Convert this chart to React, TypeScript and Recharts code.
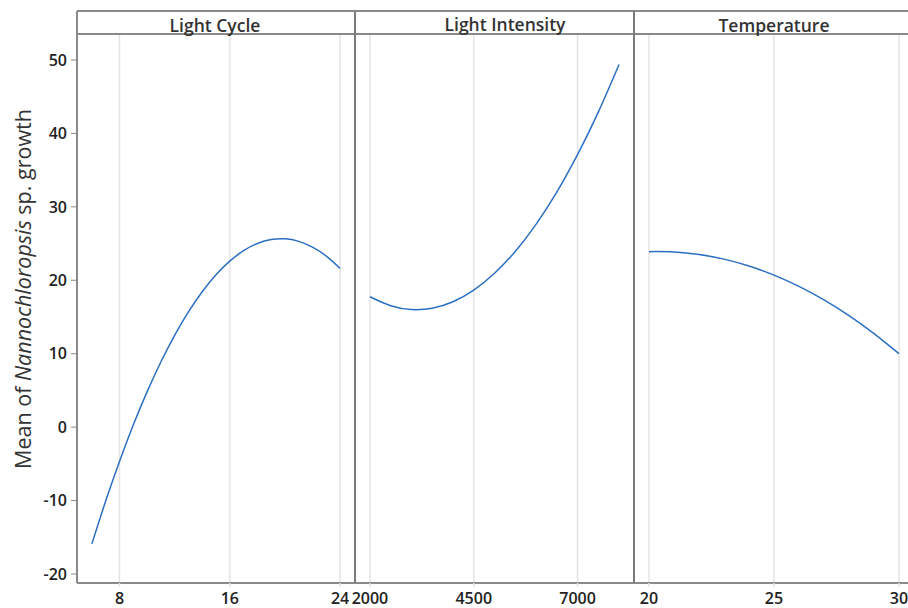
import React from 'react';
import { LineChart, Line, XAxis, YAxis, CartesianGrid } from 'recharts';

// factor levels and fitted means
const panelTitles = ['Light Cycle', 'Light Intensity', 'Temperature'];

const lightCycle = [6, 7, 8, 9, 10, 11, 12, 13, 14, 15, 16, 17, 18, 19, 20, 21, 22, 23, 24];
const lightCycleMean = [-15.9, -10.06, -4.67, 0.29, 4.8, 8.87, 12.5, 15.69, 18.44, 20.74, 22.6, 24.03, 25.01, 25.54, 25.64, 25.3, 24.51, 23.28, 21.61];

const lightIntensity = [2000, 2500, 3000, 3500, 4000, 4500, 5000, 5500, 6000, 6500, 7000, 7500, 8000];
const lightIntensityMean = [17.75, 16.53, 16.01, 16.19, 17.07, 18.66, 20.95, 23.93, 27.62, 32.01, 37.11, 42.9, 49.39];

const temperature = [20, 21, 22, 23, 24, 25, 26, 27, 28, 29, 30];
const temperatureMean = [23.9, 23.86, 23.52, 22.88, 21.94, 20.7, 19.16, 17.32, 15.18, 12.74, 10.0];

const yTicks = [-20, -10, 0, 10, 20, 30, 40, 50];
const cycleTicks = [8, 16, 24];
const intensityTicks = [2000, 4500, 7000];
const tempTicks = [20, 25, 30];

const FONT = '"Open Sans", "Noto Sans", sans-serif';
const LINE = '#2b6fc2';
const FRAME = '#8a8a8a';
const GRID = '#e4e4e4';
const TEXT = '#222';

const yDomain: [number, number] = [-21.23, 53.54];
const H = 608;

const toRows = (xs: number[], ys: number[]) => xs.map((x, i) => ({ x, y: ys[i] }));

const YLabel = () => (
  <text
    x={22}
    y={289}
    transform="rotate(-90 22 289)"
    textAnchor="middle"
    dominantBaseline="central"
    fontSize={21.5}
    fontFamily={FONT}
    fill="#333"
  >
    Mean of <tspan fontStyle="italic">Nannochloropsis</tspan> sp. growth
  </text>
);

interface PanelProps {
  left: number;
  width: number;
  rows: { x: number; y: number }[];
  domain: [number, number];
  ticks: number[];
  withYAxis?: boolean;
}

const tickStyle = { fill: TEXT, fontSize: 16, fontFamily: FONT, fontWeight: 600 };

// panels without a y axis get some room on the left so edge tick labels are not clipped
const Panel: React.FC<PanelProps> = ({ left, width, rows, domain, ticks, withYAxis }) => {
  const pad = withYAxis ? 0 : 40;
  return (
    <div style={{ position: 'absolute', left: left - pad, top: 0 }}>
      <LineChart width={width + pad} height={H} data={rows} margin={{ top: 34, right: 0, bottom: 0, left: pad }}>
        <CartesianGrid horizontal={false} stroke={GRID} strokeWidth={1.5} />
        <XAxis
          dataKey="x"
          type="number"
          domain={domain}
          ticks={ticks}
          interval={0}
          height={25}
          axisLine={{ stroke: FRAME, strokeWidth: 2 }}
          tickLine={{ stroke: GRID, strokeWidth: 1.5 }}
          tickSize={4}
          tickMargin={6}
          tick={tickStyle}
          allowDataOverflow
        />
        <YAxis
          type="number"
          domain={yDomain}
          ticks={yTicks}
          interval={0}
          hide={!withYAxis}
          width={77}
          axisLine={{ stroke: FRAME, strokeWidth: 2 }}
          tickLine={{ stroke: FRAME, strokeWidth: 1 }}
          tickSize={6}
          tickMargin={4}
          tick={tickStyle}
          label={withYAxis ? <YLabel /> : undefined}
          allowDataOverflow
        />
        <Line
          type="natural"
          dataKey="y"
          stroke={LINE}
          strokeWidth={1.5}
          dot={false}
          isAnimationActive={false}
        />
      </LineChart>
    </div>
  );
};

const App: React.FC = () => {
  const headers = [
    { cx: 215, title: panelTitles[0], base: 32 },
    { cx: 505, title: panelTitles[1], base: 30.5 },
    { cx: 774, title: panelTitles[2], base: 32 },
  ];

  return (
    <div
      style={{
        position: 'absolute',
        left: 0,
        top: 0,
        width: 908,
        height: 608,
        overflow: 'hidden',
        background: '#fff',
      }}
    >
      <Panel left={0} width={355} rows={toRows(lightCycle, lightCycleMean)} domain={[4.92, 25.08]} ticks={cycleTicks} withYAxis />
      <Panel left={355} width={279} rows={toRows(lightIntensity, lightIntensityMean)} domain={[1640, 8360]} ticks={intensityTicks} />
      <Panel left={634} width={280} rows={toRows(temperature, temperatureMean)} domain={[19.4, 30.6]} ticks={tempTicks} />

      {/* strip headers and panel frame */}
      <svg width={908} height={608} style={{ position: 'absolute', left: 0, top: 0, pointerEvents: 'none' }}>
        <line x1={77} y1={11} x2={914} y2={11} stroke={FRAME} strokeWidth={2} />
        <line x1={77} y1={34} x2={914} y2={34} stroke={FRAME} strokeWidth={2} />
        <line x1={77} y1={11} x2={77} y2={583} stroke={FRAME} strokeWidth={2} />
        <line x1={355} y1={11} x2={355} y2={583} stroke="#7a7a7a" strokeWidth={2} />
        <line x1={634} y1={11} x2={634} y2={583} stroke="#7a7a7a" strokeWidth={2} />
        {headers.map((h) => (
          <text key={h.title} x={h.cx} y={h.base} textAnchor="middle" fontSize={17.5} fontWeight={600} fontFamily={FONT} fill="#333">
            {h.title}
          </text>
        ))}
      </svg>
    </div>
  );
};

export default App;
